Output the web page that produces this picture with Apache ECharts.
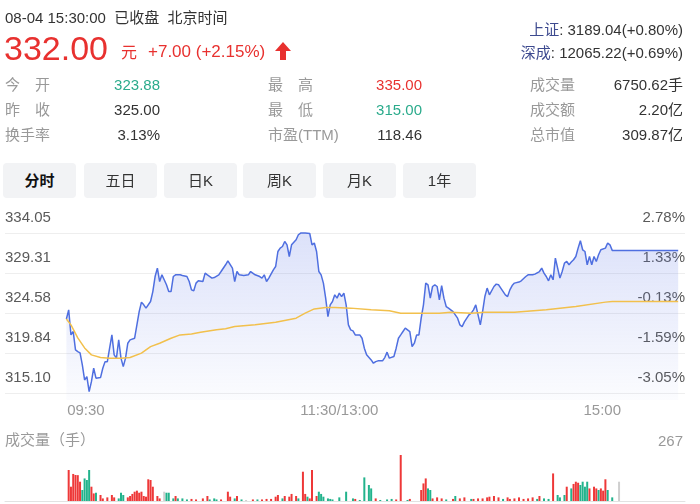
<!DOCTYPE html>
<html>
<head>
<meta http-equiv="content-type" content="text/html;charset=utf-8">
<script src="https://cdn.jsdelivr.net/npm/echarts@6/dist/echarts.min.js"></script>
<style>
body { margin: 0; background: #fff; font-family: Arial, "Liberation Sans", "Noto Sans CJK SC", sans-serif; }
#wrap { position: relative; width: 700px; height: 504px; overflow: hidden; }
#chart { position: absolute; left: 0; top: 0; width: 700px; height: 504px; }
.t { position: absolute; white-space: nowrap; line-height: 1; }
.lab { color: #999; font-size: 15px; }
.val { color: #333; font-size: 15px; text-align: right; }
.red { color: #e8312f; }
.grn { color: #2bab8c; }
.tab { position: absolute; top: 163px; width: 73px; height: 35px; line-height: 35px; background: #f2f3f5; border-radius: 4px; text-align: center; font-size: 15px; color: #333; }
</style>
</head>
<body>
<div id="wrap">
    <div id="chart"></div>

    <div class="t" style="left:5px;top:10px;font-size:15px;color:#333;">08-04 15:30:00&nbsp;&nbsp;已收盘&nbsp;&nbsp;北京时间</div>
    <div class="t red" style="left:4px;top:31px;font-size:34px;">332.00</div>
    <div class="t red" style="left:121px;top:45px;font-size:16px;">元</div>
    <div class="t red" style="left:148px;top:43px;font-size:17px;">+7.00 (+2.15%)</div>
    <svg class="t" style="left:274px;top:41px;" width="18" height="20"><polygon points="9,1 17,10 12,10 12,19 6,19 6,10 1,10" fill="#e8312f"/></svg>

    <div class="t" style="right:17px;top:22px;font-size:15px;color:#333;"><span style="color:#3d4a8f">上证</span>: 3189.04(+0.80%)</div>
    <div class="t" style="right:17px;top:45px;font-size:15px;color:#333;"><span style="color:#3d4a8f">深成</span>: 12065.22(+0.69%)</div>

    <div class="t lab" style="left:5px;top:77px;">今　开</div>
    <div class="t val grn" style="right:540px;top:77px;">323.88</div>
    <div class="t lab" style="left:268px;top:77px;">最　高</div>
    <div class="t val red" style="right:278px;top:77px;">335.00</div>
    <div class="t lab" style="left:530px;top:77px;">成交量</div>
    <div class="t val" style="right:17px;top:77px;">6750.62手</div>

    <div class="t lab" style="left:5px;top:102px;">昨　收</div>
    <div class="t val" style="right:540px;top:102px;">325.00</div>
    <div class="t lab" style="left:268px;top:102px;">最　低</div>
    <div class="t val grn" style="right:278px;top:102px;">315.00</div>
    <div class="t lab" style="left:530px;top:102px;">成交额</div>
    <div class="t val" style="right:17px;top:102px;">2.20亿</div>

    <div class="t lab" style="left:5px;top:127px;">换手率</div>
    <div class="t val" style="right:540px;top:127px;">3.13%</div>
    <div class="t lab" style="left:268px;top:127px;">市盈(TTM)</div>
    <div class="t val" style="right:278px;top:127px;">118.46</div>
    <div class="t lab" style="left:530px;top:127px;">总市值</div>
    <div class="t val" style="right:17px;top:127px;">309.87亿</div>

    <div class="tab" style="left:3px;font-weight:bold;color:#111;">分时</div>
    <div class="tab" style="left:84px;">五日</div>
    <div class="tab" style="left:164px;">日K</div>
    <div class="tab" style="left:243px;">周K</div>
    <div class="tab" style="left:323px;">月K</div>
    <div class="tab" style="left:403px;">1年</div>

    <div class="t lab" style="left:5px;top:432px;">成交量（手）</div>
    <div class="t lab" id="volMaxText" style="right:17px;top:433px;"></div>
</div>

<script type="text/javascript">
    // 昨收
    var prevClose = 325.00;

    // 分时价格 (分钟数, 从09:30起; 240 = 15:00, 之后是盘后)
    var priceTime = [0, 1, 2, 3, 4, 5, 6, 7, 8, 9, 10, 11, 12, 13, 15, 16, 17, 18, 19, 20,
        21, 22, 23, 24, 25, 26, 27, 28, 30, 31, 32, 33, 34, 35, 37, 38, 39, 40, 41, 42,
        43, 44, 45, 46, 47, 48, 50, 51, 53, 54, 55, 56, 57, 58, 60, 61, 62, 64, 65, 67,
        68, 70, 71, 73, 74, 75, 76, 78, 80, 81, 83, 85, 86, 87, 88, 89, 91, 92, 93, 94,
        95, 96, 97, 98, 99, 101, 102, 103, 105, 107, 108, 109, 110, 111, 112, 113, 114, 115, 116, 117,
        118, 119, 120, 121, 122, 123, 124, 125, 126, 127, 129, 130, 131, 132, 134, 135, 136, 137, 139, 140,
        141, 142, 144, 145, 146, 147, 148, 149, 151, 152, 153, 154, 155, 156, 157, 158, 159, 160, 161, 162,
        163, 164, 165, 166, 167, 168, 170, 171, 172, 173, 174, 175, 177, 178, 179, 180, 181, 182, 183, 184,
        185, 186, 188, 189, 190, 191, 193, 194, 195, 196, 197, 199, 200, 202, 203, 205, 206, 208, 209, 210,
        211, 212, 213, 214, 215, 216, 217, 218, 219, 220, 221, 222, 223, 224, 225, 226, 227, 228, 229, 230,
        231, 232, 233, 234, 235, 237, 238, 239, 240, 269];
    var priceValue = [323.88, 324.97, 322.00, 322.40, 320.23, 320.03, 319.87, 318.45, 316.67, 317.07, 315.29, 316.47, 318.06, 316.88, 316.95, 318.06, 318.84, 318.84, 320.43, 322.00,
        319.64, 319.25, 321.41, 319.25, 318.25, 319.25, 321.02, 321.41, 321.61, 323.19, 324.76, 325.88, 325.56, 325.17, 325.95, 327.13, 328.91, 329.90, 328.32, 329.11,
        328.52, 327.93, 327.13, 327.13, 328.91, 329.11, 329.11, 329.03, 328.91, 328.32, 327.33, 327.22, 328.13, 328.40, 328.32, 329.31, 329.11, 328.72, 328.79, 329.11,
        329.50, 330.30, 330.77, 329.90, 328.32, 329.50, 329.11, 329.03, 329.11, 329.50, 329.11, 328.91, 328.72, 329.11, 328.32, 328.72, 329.70, 330.09, 331.87, 332.27,
        332.46, 333.06, 332.66, 331.28, 332.66, 333.26, 333.85, 334.05, 334.05, 334.00, 332.66, 332.87, 331.87, 329.50, 329.11, 328.13, 326.35, 324.17, 325.56, 325.95,
        326.74, 326.35, 326.94, 326.54, 326.94, 325.56, 323.19, 322.60, 322.48, 322.00, 322.00, 321.61, 320.43, 319.64, 319.04, 318.65, 318.84, 318.93, 318.93, 319.32,
        319.96, 319.25, 319.44, 320.43, 321.61, 322.00, 322.40, 322.80, 322.40, 320.62, 321.02, 322.00, 322.00, 323.98, 325.56, 328.13, 327.93, 326.35, 327.73, 327.93,
        327.73, 326.15, 327.84, 326.35, 325.36, 325.17, 324.76, 324.37, 323.98, 323.19, 322.99, 323.54, 324.37, 324.57, 324.97, 325.56, 324.37, 323.19, 324.76, 326.54,
        327.54, 326.74, 327.73, 328.01, 327.93, 327.54, 326.74, 326.54, 327.33, 327.84, 328.13, 328.25, 328.40, 328.91, 329.11, 329.11, 329.19, 329.50, 329.90, 329.31,
        328.91, 328.40, 329.11, 328.52, 331.09, 329.90, 328.72, 329.50, 330.50, 330.69, 330.30, 330.62, 330.89, 331.28, 332.27, 333.14, 332.07, 331.87, 330.30, 331.28,
        330.30, 331.28, 330.69, 331.48, 332.07, 332.27, 332.87, 332.66, 332.00, 332.00];

    // 均价线
    var avgTime = [0, 2, 5, 8, 11, 15, 19, 24, 28, 33, 37, 41, 46, 50, 55, 59, 66, 70, 74, 83,
        92, 101, 105, 109, 114, 118, 125, 134, 142, 147, 156, 164, 169, 178, 184, 197, 211, 224, 237, 240, 269];
    var avgValue = [323.88, 323.19, 321.65, 320.46, 319.64, 319.32, 319.25, 319.25, 319.32, 319.84, 320.62, 321.02, 321.61, 322.00, 322.12, 322.32, 322.60, 322.72, 322.99, 323.19,
        323.51, 323.98, 324.57, 325.08, 325.24, 325.24, 325.17, 324.97, 324.85, 324.57, 324.57, 324.57, 324.69, 324.57, 324.69, 324.69, 324.97, 325.36, 325.88, 325.95, 325.95];

    // 成交量 (手), 方向: 1 涨 / -1 跌 / 0 平
    var volTime = [1, 2, 3, 4, 5, 6, 7, 8, 9, 10, 11, 12, 13, 15, 16, 18, 20, 21, 23, 24,
        25, 27, 28, 29, 30, 31, 32, 33, 34, 35, 36, 37, 38, 40, 41, 43, 44, 45, 47, 48,
        49, 51, 53, 55, 57, 60, 62, 63, 65, 66, 68, 71, 72, 74, 75, 77, 79, 82, 84, 86,
        88, 90, 92, 93, 95, 96, 98, 99, 101, 102, 104, 105, 106, 107, 108, 110, 111, 112, 113, 115,
        116, 117, 120, 123, 126, 127, 129, 131, 133, 134, 136, 138, 141, 143, 145, 147, 150, 151, 156, 157,
        158, 159, 160, 161, 163, 165, 167, 170, 171, 173, 175, 178, 179, 181, 183, 185, 186, 188, 190, 192,
        194, 195, 197, 199, 201, 203, 205, 207, 208, 210, 212, 214, 216, 217, 219, 220, 222, 223, 224, 225,
        226, 227, 228, 229, 230, 232, 233, 234, 235, 236, 237, 238, 240, 243];
    var volValue = [180, 83, 157, 151, 150, 112, 64, 131, 122, 180, 83, 44, 48, 35, 15, 21, 35, 21, 15, 48,
        35, 21, 29, 41, 54, 60, 48, 54, 29, 25, 126, 122, 83, 29, 15, 54, 48, 48, 15, 29,
        15, 15, 9, 12, 9, 15, 29, 9, 15, 9, 9, 54, 25, 15, 29, 9, 6, 9, 9, 9,
        12, 12, 25, 35, 15, 29, 25, 41, 29, 15, 170, 41, 25, 15, 180, 29, 54, 41, 25, 15,
        12, 9, 21, 54, 15, 12, 6, 137, 93, 73, 15, 6, 9, 12, 9, 267, 6, 12, 64, 102,
        131, 73, 64, 15, 21, 15, 9, 12, 29, 15, 21, 12, 12, 15, 15, 21, 25, 29, 21, 12,
        21, 12, 15, 21, 12, 15, 21, 12, 29, 15, 12, 160, 35, 21, 35, 83, 73, 99, 112, 106,
        93, 112, 83, 112, 73, 83, 73, 64, 73, 60, 126, 64, 21, 112];
    var volDir = [1, 1, 1, 1, 1, 1, -1, -1, -1, -1, 1, 1, -1, 1, 1, 1, 1, 1, -1, -1,
        -1, 1, 1, 1, 1, 1, 1, 1, 1, 1, 1, 1, 1, 1, 1, 0, -1, -1, -1, 1,
        -1, -1, -1, 1, 1, 1, 1, -1, -1, -1, 1, 1, 1, -1, 1, -1, 0, 1, -1, 1,
        1, 1, 1, 1, -1, 1, 1, 1, 1, -1, 1, 1, -1, 1, 1, 1, -1, -1, -1, -1,
        -1, -1, -1, -1, -1, 1, -1, -1, -1, -1, 1, -1, -1, -1, 1, 1, -1, 1, 1, 1,
        1, -1, -1, 1, 1, 1, -1, 1, -1, 1, 1, -1, 1, 1, 1, 1, 1, 1, 1, -1,
        1, 1, 1, 1, 1, 1, 1, -1, 1, -1, -1, 1, -1, -1, -1, 1, -1, 1, 1, 1,
        -1, -1, -1, -1, 1, 1, 1, -1, 1, 1, 1, -1, -1, 0];

    // 坐标轴刻度
    var priceTicks = [315.10, 319.84, 324.58, 329.31, 334.05];
    var timeTicks = [0, 120, 240];
    var timeLabels = ['09:30', '11:30/13:00', '15:00'];

    var fontFamily = 'Arial, "Liberation Sans", "Noto Sans CJK SC", sans-serif';

    function pct(v) {
        return (v / prevClose - 1) * 100;
    }
    function zip(a, b) {
        var out = [];
        for (var i = 0; i < a.length; i++) {
            out.push([a[i], b[i]]);
        }
        return out;
    }

    var volMax = Math.max.apply(null, volValue);
    document.getElementById('volMaxText').innerHTML = volMax;

    var yMin = priceTicks[0] - 0.8;
    var yMax = priceTicks[priceTicks.length - 1] + 0.6;
    var pctTicks = priceTicks.map(pct);

    var myChart = echarts.init(document.getElementById('chart'));
    var option = {
        animation: false,
        textStyle: {fontFamily: fontFamily},
        grid: [
            {left: 5, right: 15, top: 228, height: 172},
            {left: 5, right: 15, top: 455, height: 46}
        ],
        xAxis: [
            {
                type: 'value', gridIndex: 0, min: -27, max: 272,
                axisLine: {show: false}, axisTick: {show: false}, splitLine: {show: false},
                axisLabel: {
                    customValues: timeTicks,
                    margin: 3,
                    formatter: function (v) {
                        var i = timeTicks.indexOf(v);
                        if (i === 0) return '{l|' + timeLabels[i] + '}';
                        if (i === timeTicks.length - 1) return '{r|' + timeLabels[i] + '}';
                        return '{c|' + timeLabels[i] + '}';
                    },
                    rich: {
                        l: {color: '#999', fontSize: 15, fontFamily: fontFamily, padding: [0, 0, 0, 39]},
                        c: {color: '#999', fontSize: 15, fontFamily: fontFamily},
                        r: {color: '#999', fontSize: 15, fontFamily: fontFamily, padding: [0, 20, 0, 0]}
                    }
                }
            },
            {
                type: 'value', gridIndex: 1, min: -27, max: 272,
                axisLine: {show: true, lineStyle: {color: '#e2e2e2'}},
                axisTick: {show: false}, axisLabel: {show: false}, splitLine: {show: false}
            }
        ],
        yAxis: [
            {
                type: 'value', gridIndex: 0, position: 'left', min: yMin, max: yMax,
                axisLine: {show: false},
                axisTick: {show: false, customValues: priceTicks},
                splitLine: {show: true, lineStyle: {color: '#eeeeee'}},
                axisLabel: {
                    customValues: priceTicks, inside: true, margin: 0,
                    verticalAlign: 'bottom', lineHeight: 30,
                    color: '#5a5a5a', fontSize: 15,
                    formatter: function (v) { return v.toFixed(2); }
                }
            },
            {
                type: 'value', gridIndex: 0, position: 'right', min: pct(yMin), max: pct(yMax),
                axisLine: {show: false},
                axisTick: {show: false, customValues: pctTicks},
                splitLine: {show: false},
                axisLabel: {
                    customValues: pctTicks, inside: true, margin: 0,
                    verticalAlign: 'bottom', lineHeight: 30,
                    color: '#5a5a5a', fontSize: 15,
                    formatter: function (v) { return v.toFixed(2) + '%'; }
                }
            },
            {
                type: 'value', gridIndex: 1, min: 0, max: volMax, show: false
            }
        ],
        series: [
            {
                name: '价格', type: 'line', xAxisIndex: 0, yAxisIndex: 0,
                data: zip(priceTime, priceValue),
                symbol: 'none',
                lineStyle: {color: '#4f6fe0', width: 1.5},
                areaStyle: {
                    origin: 'start',
                    color: new echarts.graphic.LinearGradient(0, 0, 0, 1, [
                        {offset: 0, color: 'rgba(90,115,230,0.30)'},
                        {offset: 1, color: 'rgba(90,115,230,0.03)'}
                    ])
                },
                z: 2
            },
            {
                name: '均价', type: 'line', xAxisIndex: 0, yAxisIndex: 0,
                data: zip(avgTime, avgValue),
                symbol: 'none',
                lineStyle: {color: '#f2c04c', width: 1.5},
                z: 3
            },
            {
                name: '成交量', type: 'bar', xAxisIndex: 1, yAxisIndex: 2,
                data: zip(volTime, volValue),
                barWidth: 2,
                itemStyle: {
                    color: function (p) {
                        var d = volDir[p.dataIndex];
                        if (d > 0) return '#ee3838';
                        if (d < 0) return '#22b38c';
                        return '#cfcfcf';
                    }
                }
            }
        ]
    };
    myChart.setOption(option);
</script>
</body>
</html>
